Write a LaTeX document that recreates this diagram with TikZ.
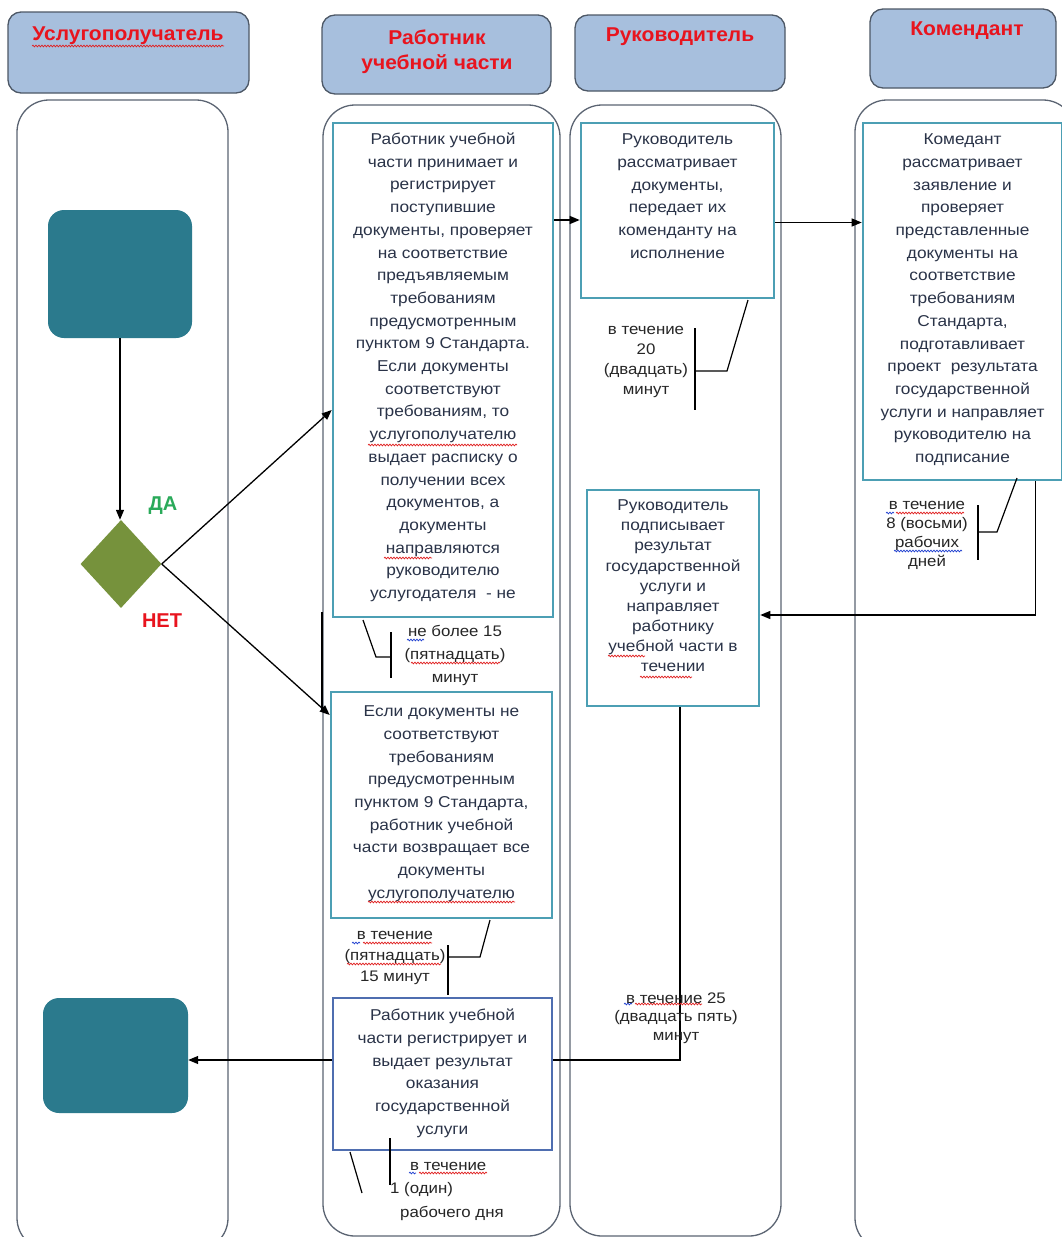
\documentclass[tikz,border=0pt]{standalone}
\usepackage{fontspec}
\setmainfont{Liberation Sans}
\newfontfamily\bxfont[FakeStretch=1.1]{Liberation Sans}
\newfontfamily\hdfont[FakeStretch=1.05]{Liberation Sans}
\usetikzlibrary{arrows.meta,shapes.geometric,decorations.pathmorphing}
\definecolor{hdrfill}{HTML}{A7BFDD}
\definecolor{hdrline}{HTML}{4D5866}
\definecolor{laneline}{HTML}{5B6472}
\definecolor{tealbox}{HTML}{2B7A8D}
\definecolor{olivefill}{HTML}{76923C}
\definecolor{boxline}{HTML}{4C9FB4}
\definecolor{boxlineb}{HTML}{4F6EB0}
\definecolor{boxtxt}{HTML}{2A3348}
\definecolor{hdrred}{HTML}{E8141E}
\definecolor{dagreen}{HTML}{2AAA5A}
\definecolor{spellred}{HTML}{E02020}
\definecolor{spellblue}{HTML}{2040D0}
\tikzset{
  hdr/.style={draw=hdrline, line width=1.3pt, fill=hdrfill, rounded corners=13pt, inner sep=0pt},
  hdrtxt/.style={text=hdrred, font={\hdfont\bfseries\fontsize{20}{25}\selectfont}, align=center, inner sep=0pt},
  lane/.style={draw=laneline, line width=1.3pt, rounded corners=32pt, inner sep=0pt},
  procbox/.style={draw=boxline, line width=2.6pt, fill=white, inner sep=0pt},
  procboxb/.style={draw=boxlineb, line width=2pt, fill=white, inner sep=0pt},
  proctxt/.style={text=boxtxt, font={\bxfont\fontsize{15.7}{22.7}\selectfont}, align=center, inner sep=0pt, anchor=north},
  termbox/.style={fill=tealbox, rounded corners=16pt, inner sep=0pt},
  anntxt/.style={text=black!85, align=center, inner sep=0pt},
  arr/.style={draw=black, line width=1.3pt, -{Triangle[length=10pt,width=8pt]}},
  conn/.style={draw=black, line width=1.3pt},
  brk/.style={draw=black, line width=1.2pt},
  spell/.style={draw=spellred, line width=0.7pt, decorate, decoration={snake, amplitude=0.9pt, segment length=3pt}},
  spellb/.style={draw=spellblue, line width=0.7pt, decorate, decoration={snake, amplitude=0.9pt, segment length=3pt}}
}
\newcommand\annf[1]{\bxfont\fontsize{15.3}{#1}\selectfont}
\begin{document}
\begin{tikzpicture}[x=1pt,y=-1pt]
\useasboundingbox (0,0) rectangle (1061,1237);
\fill[white] (0,0) rectangle (1061,1237);

% lanes
\node[lane, minimum width=211pt, minimum height=1150pt] (lane1) at (122.5,675) {};
\node[lane, minimum width=237pt, minimum height=1131pt] (lane2) at (441.5,670.5) {};
\node[lane, minimum width=211pt, minimum height=1131pt] (lane3) at (675.5,670.5) {};
\node[lane, minimum width=220pt, minimum height=1150pt] (lane4) at (965,675) {};

% headers
\node[hdr, minimum width=241pt, minimum height=81pt] (h1) at (128.5,52.5) {};
\node[hdr, minimum width=229pt, minimum height=79pt] (h2) at (436.5,54.5) {};
\node[hdr, minimum width=210pt, minimum height=76pt] (h3) at (680,53) {};
\node[hdr, minimum width=186pt, minimum height=79pt] (h4) at (963,48.5) {};
\node[hdrtxt] (h1t) at (128,36) {Услугополучатель};
\node[hdrtxt] (h2t) at (437,52) {Работник\\учебной части};
\node[hdrtxt] (h3t) at (680,37) {Руководитель};
\node[hdrtxt] (h4t) at (967,31) {Комендант};

% terminal boxes and decision
\node[termbox, minimum width=144pt, minimum height=128pt] (start) at (120,274) {};
\node[termbox, minimum width=145pt, minimum height=115pt] (fin) at (115.5,1055.5) {};
\node[diamond, fill=olivefill, minimum width=81pt, minimum height=88pt, inner sep=0pt] (dia) at (121,564) {};
\node[text=dagreen, font={\bfseries\fontsize{20}{24}\selectfont}, inner sep=0pt] (yes) at (163,506) {ДА};
\node[text=hdrred, font={\bfseries\fontsize{20}{24}\selectfont}, inner sep=0pt] (no) at (162,621) {НЕТ};

% process boxes
\node[procbox, minimum width=220pt, minimum height=494pt] (A) at (443,370) {};
\node[proctxt] (At) at ([yshift=-11pt]A.north) {Работник учебной\\части принимает и\\регистрирует\\поступившие\\документы, проверяет\\на соответствие\\предъявляемым\\требованиям\\предусмотренным\\пунктом 9 Стандарта.\\Если документы\\соответствуют\\требованиям, то\\услугополучателю\\выдает расписку о\\получении всех\\документов, а\\документы\\направляются\\руководителю\\услугодателя \ - не};

\node[procbox, minimum width=221pt, minimum height=226pt] (B) at (441.5,805) {};
\node[proctxt] (Bt) at ([yshift=-15pt]B.north) {Если документы не\\соответствуют\\требованиям\\предусмотренным\\пунктом 9 Стандарта,\\работник учебной\\части возвращает все\\документы\\услугополучателю};

\node[procboxb, minimum width=219pt, minimum height=152pt] (C) at (442.5,1074) {};
\node[proctxt] (Ct) at ([yshift=-12pt]C.north) {Работник учебной\\части регистрирует и\\выдает результат\\оказания\\государственной\\услуги};

\node[procbox, minimum width=193pt, minimum height=175pt] (D) at (677.5,210.5) {};
\node[proctxt] (Dt) at ([yshift=-12pt]D.north) {Руководитель\\рассматривает\\документы,\\передает их\\коменданту на\\исполнение};

\node[procbox, minimum width=172pt, minimum height=216pt] (E) at (673,598) {};
\node[proctxt, font={\bxfont\fontsize{15.7}{20.1}\selectfont}] (Et) at ([yshift=-11pt]E.north) {Руководитель\\подписывает\\результат\\государственной\\услуги и\\направляет\\работнику\\учебной части в\\течении};

\node[procbox, minimum width=199pt, minimum height=357pt] (F) at (962.5,301.5) {};
\node[proctxt] (Ft) at ([yshift=-12pt]F.north) {Комедант\\рассматривает\\заявление и\\проверяет\\представленные\\документы на\\соответствие\\требованиям\\Стандарта,\\подготавливает\\проект \ результата\\государственной\\услуги и направляет\\руководителю на\\подписание};

% connectors
\draw[arr] (start.south) -- (start.south |- dia.north);
\draw[arr] (dia.east) -- ([yshift=-40pt]A.west);
\draw[arr] (dia.east) -- ([yshift=90pt]B.west);
\draw[arr] ([yshift=150pt]A.east) -- ([yshift=150pt]A.east -| D.west);
\draw[arr] ([yshift=-12pt]D.east) -- ([yshift=-12pt]D.east -| F.west);
\draw[arr] ([xshift=73pt]F.south) |- ([yshift=-17pt]E.east);
\draw[conn] ([xshift=7pt]E.south) |- ([yshift=14pt]C.east);
\draw[arr] ([yshift=14pt]C.west) -- ([yshift=14pt]C.west -| fin.east);
\draw[conn] (322,612) -- (322,712);

% annotations
\node[anntxt, font={\annf{23}}] (a1) at (455,655) {не более 15\\(пятнадцать)\\минут};
\node[anntxt, font={\annf{19.7}}] (a2) at (646,362) {в течение\\20\\(двадцать)\\минут};
\node[anntxt, font={\annf{19}}] (a3) at (927,535) {в течение\\8 (восьми)\\рабочих\\дней};
\node[anntxt, font={\annf{21}}] (a4) at (395,958) {в течение\\(пятнадцать)\\15 минут};
\node[anntxt, font={\annf{18.5}}] (a5) at (676,1018) {в течение 25\\(двадцать пять)\\минут};
\node[anntxt, font={\annf{23.5}}, align=left, anchor=west] (a6) at (390,1191) {\hspace*{20pt}в течение\\1 (один)\\\hspace*{10pt}рабочего дня};

% brackets
\draw[brk] (363,620) -- (376,657) -- (391,657);
\draw[brk] (391,632) -- (391,678);
\draw[brk] (748,300) -- (727,371) -- (695,371);
\draw[brk] (695,328) -- (695,410);
\draw[brk] (1017,478) -- (997,532) -- (978,532);
\draw[brk] (978,505) -- (978,560);
\draw[brk] (490,920) -- (480,957) -- (448,957);
\draw[brk] (448,945) -- (448,995);
\draw[brk] (390,1138) -- (390,1185);
\draw[brk] (350,1152) -- (362,1193);

% spell-check underlines
\draw[spell] (32,46) -- (224,46);
\draw[spell] (368,445) -- (517,445);
\draw[spell] (384,558) -- (432,558);
\draw[spell] (368,902) -- (515,902);
\draw[spell] (608,656) -- (645,656);
\draw[spell] (640,677) -- (692,677);
\draw[spellb] (407,640) -- (424,640);
\draw[spell] (411,663) -- (500,663);
\draw[spellb] (886,513) -- (894,513);
\draw[spell] (896,513) -- (964,513);
\draw[spellb] (894,551) -- (962,551);
\draw[spellb] (352,943) -- (360,943);
\draw[spell] (363,943) -- (432,943);
\draw[spell] (347,964) -- (441,964);
\draw[spellb] (624,1004) -- (632,1004);
\draw[spell] (635,1004) -- (702,1004);
\draw[spellb] (409,1173) -- (416,1173);
\draw[spell] (419,1173) -- (487,1173);
\end{tikzpicture}
\end{document}
